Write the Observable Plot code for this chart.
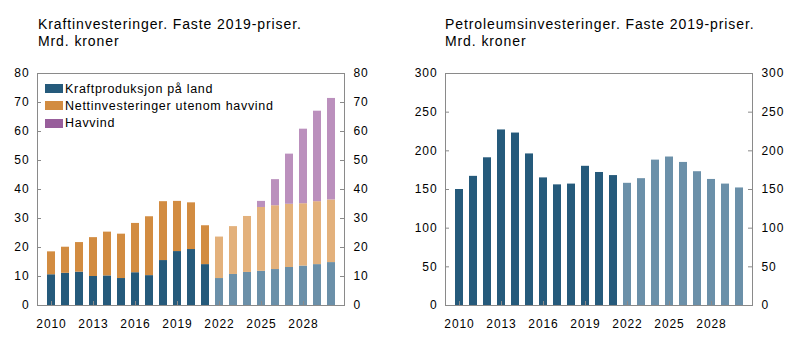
<!DOCTYPE html>
<html>
<head>
<meta charset="utf-8">
<script src="https://cdn.jsdelivr.net/npm/d3@7"></script>
<script src="https://cdn.jsdelivr.net/npm/@observablehq/plot@0.6"></script>
<style>
  html, body { margin: 0; padding: 0; background: #fff; }
  body { width: 797px; height: 353px; position: relative; overflow: hidden;
         font-family: "Liberation Sans", Arial, sans-serif; color: #000; }
  .title { position: absolute; top: 16px; font-size: 14px; line-height: 16.5px; letter-spacing: 0.9px; white-space: nowrap; }
  .chart { position: absolute; top: 0; width: 400px; height: 340px; }
  .chart svg { max-width: none !important; }
  .legend { position: absolute; left: 45px; top: 80px; font-size: 12.5px; letter-spacing: 0.7px; }
  .legend .item { position: relative; height: 17.3px; display: flex; align-items: center; white-space: nowrap; }
  .legend .sw { width: 18px; height: 9px; margin-right: 2px; flex: none; }
</style>
</head>
<body>
<div class="title" style="left:38px">Kraftinvesteringer. Faste 2019-priser.<br>Mrd. kroner</div>
<div class="title" style="left:445px">Petroleumsinvesteringer. Faste 2019-priser.<br>Mrd. kroner</div>
<div id="left" class="chart" style="left:0px"></div>
<div id="right" class="chart" style="left:408px"></div>
<div id="legend" class="legend"></div>
<script>
// ---- Data ----
const years = [2010,2011,2012,2013,2014,2015,2016,2017,2018,2019,2020,2021,2022,2023,2024,2025,2026,2027,2028,2029,2030];
const firstProjectionYear = 2022;
const seriesNames = ["Kraftproduksjon på land", "Nettinvesteringer utenom havvind", "Havvind"];
const kraftproduksjon = [10.6,11.1,11.5,10.0,10.2,9.3,11.3,10.3,15.5,18.6,19.3,14.1,9.3,10.7,11.4,11.8,12.4,13.1,13.6,14.1,14.8];
const nettinvesteringer = [7.9,9.0,10.2,13.4,15.1,15.3,17.0,20.3,20.3,17.3,16.1,13.4,14.3,16.5,19.3,22.0,22.0,21.8,21.5,21.7,21.6];
const havvind = [0,0,0,0,0,0,0,0,0,0,0,0,0,0,0,2.1,9.0,17.3,25.7,31.2,35.0];
const petroleum = [150,167,191,227,223,196,165,156,157,180,172,168,158,164,188,192,185,173,163,157,152];
const leftTicks = [0,10,20,30,40,50,60,70,80];
const rightTicks = [0,50,100,150,200,250,300];
const xTickYears = [2010,2013,2016,2019,2022,2025,2028];

// colours: [actual, projection]
const seriesColors = [["#255a7b", "#6b90a9"], ["#d28c41", "#e3b17c"], ["#985e9b", "#bb90bd"]];
const frameColor = "#8a8a8a";

// ---- Build tables ----
const seriesValues = [kraftproduksjon, nettinvesteringer, havvind];
const leftRows = [];
seriesValues.forEach((vals, s) => {
  years.forEach((yr, i) => {
    leftRows.push({year: yr, series: seriesNames[s], value: vals[i],
      color: seriesColors[s][yr >= firstProjectionYear ? 1 : 0]});
  });
});
const rightRows = years.map((yr, i) => ({year: yr, value: petroleum[i],
  color: seriesColors[0][yr >= firstProjectionYear ? 1 : 0]}));

const W = 400, H = 340, mL = 37, mR = 56, mT = 73, mB = 35;
const plotW = W - mL - mR, plotH = H - mT - mB;
const svgStyle = "font-family: 'Liberation Sans', Arial, sans-serif; font-size: 12px; letter-spacing: 0.9px; color: #000; background: transparent; overflow: visible; max-width: none;";

function chart(rows, yDomain, yTicks, stacked) {
  const bars = stacked
    ? Plot.barY(rows, Plot.stackY({x: "year", y: "value", z: "series", fill: "color", order: null}))
    : Plot.barY(rows, {x: "year", y: "value", fill: "color"});
  return Plot.plot({
    width: W, height: H,
    marginLeft: mL, marginRight: mR, marginTop: mT, marginBottom: mB,
    style: svgStyle,
    x: {type: "band", domain: years, paddingInner: 0.43, paddingOuter: 0.25},
    y: {domain: yDomain},
    color: {type: "identity"},
    marks: [
      bars,
      Plot.ruleY(yTicks, {stroke: frameColor, insetRight: plotW - 4}),
      Plot.ruleY(yTicks, {stroke: frameColor, insetLeft: plotW - 4}),
      Plot.ruleX(xTickYears, {stroke: frameColor, insetTop: plotH - 4}),
      Plot.frame({stroke: frameColor}),
      Plot.axisY(yTicks, {anchor: "left", tickSize: 0, tickPadding: 8, label: null, fill: "#000"}),
      Plot.axisY(yTicks, {anchor: "right", tickSize: 0, tickPadding: 9, label: null, fill: "#000"}),
      Plot.axisX(xTickYears, {anchor: "bottom", tickSize: 0, tickPadding: 14, label: null, fill: "#000", tickFormat: d => String(d)})
    ]
  });
}

document.getElementById("left").append(chart(leftRows, [0, 80], leftTicks, true));
document.getElementById("right").append(chart(rightRows, [0, 300], rightTicks, false));

// ---- Legend ----
const leg = document.getElementById("legend");
seriesNames.forEach((name, s) => {
  const item = document.createElement("div");
  item.className = "item";
  const sw = document.createElement("span");
  sw.className = "sw";
  sw.style.background = seriesColors[s][0];
  const tx = document.createElement("span");
  tx.textContent = name;
  item.append(sw, tx);
  leg.append(item);
});
</script>
</body>
</html>
